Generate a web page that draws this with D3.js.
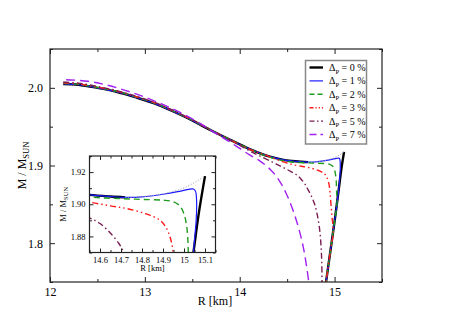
<!DOCTYPE html>
<html><head><meta charset="utf-8">
<script src="https://cdnjs.cloudflare.com/ajax/libs/d3/7.8.5/d3.min.js"></script>
<style>body{margin:0;background:#fff}svg{display:block}svg text{font-family:"Liberation Serif","Nimbus Roman","Times New Roman",Times,serif !important;fill:#000}</style>
</head><body><svg id="c" width="457" height="323"></svg>
<script>
// ---------- data ----------
const xTicks = [12, 13, 14, 15];
const yTicks = [1.8, 1.9, 2.0];
const yTickLabels = ["1.8", "1.9", "2.0"];
const insetXTicks = [14.6, 14.7, 14.8, 14.9, 15.0, 15.1];
const insetXTickLabels = ["14.6", "14.7", "14.8", "14.9", "15", "15.1"];
const insetYTicks = [1.88, 1.90, 1.92];
const legendLabels = ["0 %", "1 %", "2 %", "3 %", "5 %", "7 %"];

// Δp = 0 % : stable branch and twin branch
const d0aR = [12.14,12.3,12.5,12.7,12.9,13.1,13.3,13.5,13.7,13.9,14.1,14.3,14.45,14.55,14.65,14.72];
const d0aM = [2.005,2.004,2.000,1.995,1.988,1.980,1.9695,1.958,1.945,1.933,1.9215,1.912,1.9075,1.9058,1.9048,1.9043];
const d0bR = [15.1,15.07,15.045,15.0,14.955,14.91];
const d0bM = [1.9175,1.894,1.87,1.828,1.789,1.75];
// unstable connection (gray dotted)
const unR = [14.72,14.8,14.9,14.95,15.0,15.05,15.1];
const unM = [1.9043,1.9047,1.9065,1.908,1.9102,1.9135,1.9175];
// Δp = 1 %
const d1R = [12.14,12.3,12.5,12.7,12.9,13.1,13.3,13.5,13.7,13.9,14.1,14.3,14.45,14.55,14.65,14.72,14.8,14.9,14.97,15.02,15.045,15.055,15.06,15.058,15.05,15.045,15.0,14.955,14.91];
const d1M = [2.005,2.004,2.000,1.995,1.988,1.980,1.9695,1.958,1.945,1.933,1.9215,1.912,1.9075,1.9058,1.9048,1.9043,1.9046,1.9062,1.9078,1.9092,1.9095,1.908,1.902,1.89,1.878,1.87,1.828,1.789,1.75];
// Δp = 2 %
const d2R = [12.14,12.3,12.5,12.7,12.9,13.1,13.3,13.5,13.7,13.9,14.1,14.3,14.45,14.55,14.7,14.8,14.9,14.95,14.98,15.0,15.012,15.018,15.021,15.026,15.0,14.955,14.91];
const d2M = [2.0058,2.0045,2.0005,1.9955,1.9885,1.9805,1.97,1.9585,1.9455,1.9332,1.9213,1.9115,1.9065,1.9045,1.9035,1.903,1.9025,1.9015,1.899,1.894,1.887,1.879,1.868,1.852,1.828,1.789,1.75];
// Δp = 3 %
const d3R = [12.14,12.3,12.5,12.7,12.9,13.1,13.3,13.5,13.7,13.9,14.1,14.25,14.35,14.45,14.55,14.65,14.727,14.82,14.886,14.917,14.94,14.952,14.962,14.972,14.985,14.955,14.91];
const d3M = [2.0065,2.005,2.001,1.996,1.989,1.981,1.9703,1.9587,1.9455,1.933,1.921,1.9145,1.9095,1.905,1.9014,1.899,1.8973,1.894,1.890,1.885,1.8766,1.865,1.85,1.835,1.815,1.789,1.75];
// Δp = 5 %
const d5R = [12.14,12.3,12.5,12.7,12.9,13.1,13.3,13.5,13.7,13.9,14.0,14.1,14.2,14.35,14.45,14.55,14.6,14.65,14.69,14.71,14.75,14.79,14.82,14.845,14.858,14.865,14.868];
const d5M = [2.0075,2.006,2.0018,1.9965,1.9895,1.9813,1.9708,1.959,1.9455,1.933,1.926,1.919,1.913,1.904,1.898,1.8915,1.888,1.882,1.8756,1.871,1.862,1.850,1.835,1.815,1.795,1.775,1.75];
// Δp = 7 %
const d7R = [12.17,12.4,12.6,12.8,13.0,13.2,13.4,13.6,13.7,13.8,13.9,14.0,14.1,14.2,14.33,14.42,14.49,14.56,14.62,14.67,14.705,14.728];
const d7M = [2.0105,2.0085,2.0035,1.9965,1.988,1.978,1.9665,1.953,1.945,1.9375,1.930,1.922,1.914,1.907,1.894,1.88,1.864,1.843,1.82,1.795,1.77,1.75];

const zip = (R, M) => R.map((r, i) => [r, M[i]]);

const series = [
  {pts: zip(d0aR, d0aM), color: "#000", w: 2.4, dash: null},
  {pts: zip(d0bR, d0bM), color: "#000", w: 2.4, dash: null},
  {pts: zip(d1R, d1M), color: "#1a1aff", w: 1.2, dash: null},
  {pts: zip(d2R, d2M), color: "#1e9a1e", w: 1.4, dash: "6,4"},
  {pts: zip(d3R, d3M), color: "#ff1a1a", w: 1.4, dash: "6,3,1.5,3,1.5,3"},
  {pts: zip(d5R, d5M), color: "#7a1f55", w: 1.4, dash: "6,3,1.5,3"},
  {pts: zip(d7R, d7M), color: "#a020f0", w: 1.4, dash: "9,5"},
  {pts: zip(unR, unM), color: "#a8a8b8", w: 1, dash: "1.2,1.6"}
];
const legendStyles = [
  {color: "#000", w: 2.4, dash: null},
  {color: "#1a1aff", w: 1.2, dash: null},
  {color: "#1e9a1e", w: 1.4, dash: "5,3"},
  {color: "#ff1a1a", w: 1.4, dash: "4,2,1.2,2,1.2,2"},
  {color: "#7a1f55", w: 1.4, dash: "5,2.5,1.5,2.5"},
  {color: "#a020f0", w: 1.4, dash: "7,4"}
];

// ---------- drawing ----------
const svg = d3.select("#c");
const M = {l: 50, r: 382, t: 49, b: 282};
const x = d3.scaleLinear().domain([12, 15.5]).range([M.l, M.r]);
const y = d3.scaleLinear().domain([1.75, 2.05]).range([M.b, M.t]);

svg.append("clipPath").attr("id", "mainclip").append("rect")
  .attr("x", M.l).attr("y", M.t).attr("width", M.r - M.l).attr("height", M.b - M.t);

function drawSeries(g, xs, ys) {
  const line = d3.line().x(d => xs(d[0])).y(d => ys(d[1])).curve(d3.curveCatmullRom.alpha(0.5));
  series.forEach(s => {
    g.append("path").attr("d", line(s.pts)).attr("fill", "none")
      .attr("stroke", s.color).attr("stroke-width", s.w)
      .attr("stroke-dasharray", s.dash).attr("stroke-linejoin", "round");
  });
}

const mainG = svg.append("g").attr("clip-path", "url(#mainclip)");
drawSeries(mainG, x, y);

function frameAxes(xs, ys, xMaj, xMin, yMaj, yMin, L, S) {
  const [x0, x1] = xs.range(), [y0, y1] = ys.range();
  const g = svg.append("g");
  g.append("g").attr("transform", `translate(0,${y0})`).call(d3.axisBottom(xs).tickValues(xMaj).tickSize(-L).tickFormat(""));
  g.append("g").attr("transform", `translate(0,${y0})`).call(d3.axisBottom(xs).tickValues(xMin).tickSize(-S).tickFormat(""));
  g.append("g").attr("transform", `translate(0,${y1})`).call(d3.axisTop(xs).tickValues(xMaj).tickSize(-L).tickFormat(""));
  g.append("g").attr("transform", `translate(0,${y1})`).call(d3.axisTop(xs).tickValues(xMin).tickSize(-S).tickFormat(""));
  g.append("g").attr("transform", `translate(${x0},0)`).call(d3.axisLeft(ys).tickValues(yMaj).tickSize(-L).tickFormat(""));
  g.append("g").attr("transform", `translate(${x0},0)`).call(d3.axisLeft(ys).tickValues(yMin).tickSize(-S).tickFormat(""));
  g.append("g").attr("transform", `translate(${x1},0)`).call(d3.axisRight(ys).tickValues(yMaj).tickSize(-L).tickFormat(""));
  g.append("g").attr("transform", `translate(${x1},0)`).call(d3.axisRight(ys).tickValues(yMin).tickSize(-S).tickFormat(""));
  g.selectAll(".domain").remove();
  g.selectAll(".tick line").attr("stroke", "#222").attr("stroke-width", 1);
  g.append("rect").attr("x", x0).attr("y", y1).attr("width", x1 - x0).attr("height", y0 - y1)
    .attr("fill", "none").attr("stroke", "#222").attr("stroke-width", 1.2);
  return g;
}
frameAxes(x, y, xTicks, [12.5, 13.5, 14.5, 15.5], yTicks, [1.75, 1.85, 1.95, 2.05], 5, 3);

const xl = d3.axisBottom(x).tickValues(xTicks).tickSize(0).tickPadding(5).tickFormat(d3.format("d"));
const xg = svg.append("g").attr("transform", `translate(0,${M.b})`).call(xl);
xg.select(".domain").remove();
xg.selectAll("text").attr("font-size", 12);
const yl = d3.axisLeft(y).tickValues(yTicks).tickSize(0).tickPadding(7).tickFormat((d, i) => yTickLabels[i]);
const yg = svg.append("g").attr("transform", `translate(${M.l},0)`).call(yl);
yg.select(".domain").remove();
yg.selectAll("text").attr("font-size", 12);

svg.append("text").attr("x", (M.l + M.r) / 2 - 1).attr("y", 305).attr("text-anchor", "middle")
  .attr("font-size", 12).text("R [km]");
const ylab = svg.append("text").attr("transform", `translate(26,${(M.t + M.b) / 2}) rotate(-90)`)
  .attr("text-anchor", "middle").attr("font-size", 12);
ylab.append("tspan").text("M / M");
ylab.append("tspan").attr("font-size", 8.5).attr("dy", 3).text("SUN");

// legend
const lg = svg.append("g");
lg.append("rect").attr("x", 305.5).attr("y", 60.5).attr("width", 61).attr("height", 83.5)
  .attr("fill", "#fff").attr("stroke", "#888").attr("stroke-width", 1.5);
legendLabels.forEach((lab, i) => {
  const yy = 67.5 + i * 13.4;
  const st = legendStyles[i];
  lg.append("line").attr("x1", 309.5).attr("x2", 323).attr("y1", yy).attr("y2", yy)
    .attr("stroke", st.color).attr("stroke-width", st.w).attr("stroke-dasharray", st.dash);
  const t = lg.append("text").attr("x", 329).attr("y", yy + 3.5).attr("font-size", 10);
  t.append("tspan").text("Δ");
  t.append("tspan").attr("font-size", 6.5).attr("dy", 2.5).text("P");
  t.append("tspan").attr("dy", -2.5).text(" = " + lab);
});

// ---------- inset ----------
const I = {l: 89.5, r: 215.5, t: 156, b: 252.5};
const xi = d3.scaleLinear().domain([14.55, 15.15]).range([I.l, I.r]);
const yi = d3.scaleLinear().domain([1.87, 1.93]).range([I.b, I.t]);
svg.append("rect").attr("x", I.l).attr("y", I.t).attr("width", I.r - I.l).attr("height", I.b - I.t).attr("fill", "#fff");
svg.append("clipPath").attr("id", "insetclip").append("rect")
  .attr("x", I.l).attr("y", I.t).attr("width", I.r - I.l).attr("height", I.b - I.t);
const insG = svg.append("g").attr("clip-path", "url(#insetclip)");
drawSeries(insG, xi, yi);
frameAxes(xi, yi, insetXTicks, [14.55, 14.65, 14.75, 14.85, 14.95, 15.05, 15.15], insetYTicks, [1.87, 1.89, 1.91, 1.93], 4, 2.5);

const xil = d3.axisBottom(xi).tickValues(insetXTicks).tickSize(0).tickPadding(4).tickFormat((d, i) => insetXTickLabels[i]);
const xig = svg.append("g").attr("transform", `translate(0,${I.b})`).call(xil);
xig.select(".domain").remove();
xig.selectAll("text").attr("font-size", 8.5);
const yil = d3.axisLeft(yi).tickValues(insetYTicks).tickSize(0).tickPadding(4).tickFormat(d3.format(".2f"));
const yig = svg.append("g").attr("transform", `translate(${I.l},0)`).call(yil);
yig.select(".domain").remove();
yig.selectAll("text").attr("font-size", 8.5);
svg.append("text").attr("x", 152.5).attr("y", 271).attr("text-anchor", "middle").attr("font-size", 8.5).text("R [km]");
const yilab = svg.append("text").attr("transform", `translate(66,${(I.t + I.b) / 2}) rotate(-90)`)
  .attr("text-anchor", "middle").attr("font-size", 8.5);
yilab.append("tspan").text("M / M");
yilab.append("tspan").attr("font-size", 6.5).attr("dy", 2).text("SUN");
</script></body></html>
